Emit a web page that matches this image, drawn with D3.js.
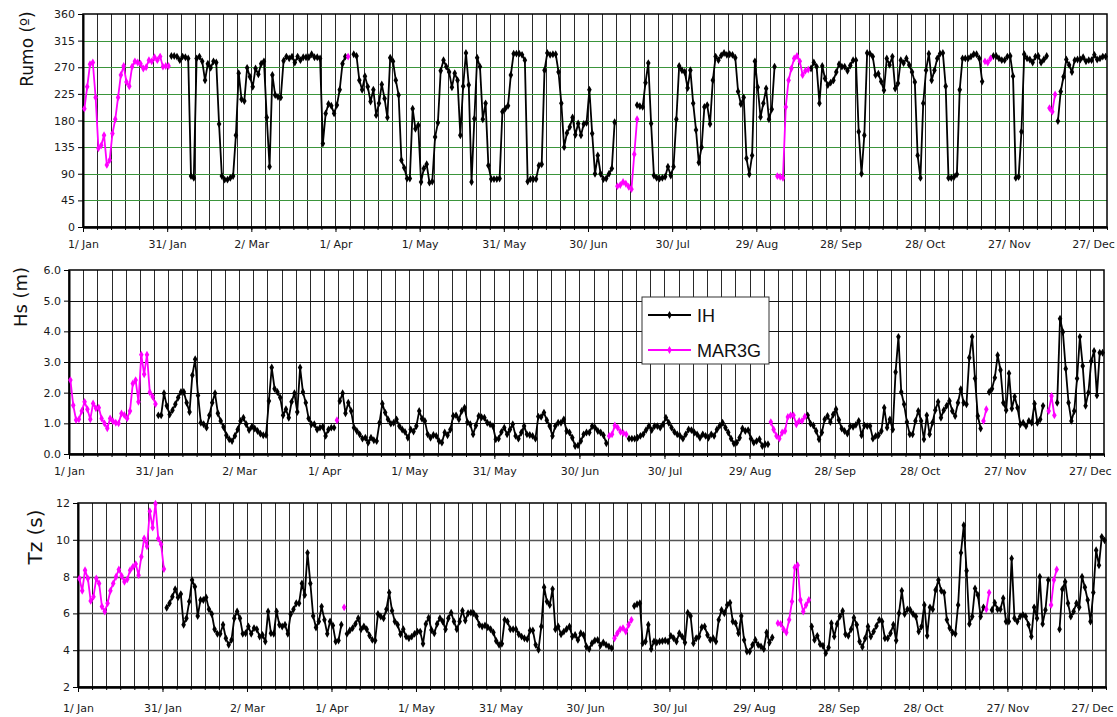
<!DOCTYPE html>
<html>
<head>
<meta charset="utf-8">
<title>Rumo, Hs, Tz</title>
<script src="https://cdn.jsdelivr.net/npm/d3@7/dist/d3.min.js"></script>
<style>
  body { margin: 0; background: #fff; }
  text { font-family: "DejaVu Sans", sans-serif; fill: #222; }
</style>
</head>
<body>
<script>
// x axis: day of year, a label every 30 days
var tickDays = [0, 30, 60, 90, 120, 150, 180, 210, 240, 270, 300, 330, 360];
var tickLabels = ["1/ Jan", "31/ Jan", "2/ Mar", "1/ Apr", "1/ May", "31/ May", "30/ Jun",
                  "30/ Jul", "29/ Aug", "28/ Sep", "28/ Oct", "27/ Nov", "27/ Dec"];

var rumoTicks = [0, 45, 90, 135, 180, 225, 270, 315, 360];
var hsTicks = [0, 1, 2, 3, 4, 5, 6];
var tzTicks = [2, 4, 6, 8, 10, 12];

// each series = list of [first day, daily values]; gaps between pieces
var rumoMAR = [
  [0, [200,237,275,278,219,133,138,155,105,113,158,182,219,257,272,245,238,271,280,278,276,268,270,282,280,287,282,288,271,272,272]],
  [94, [288]],
  [190, [69,71,76,73,68,64,123,182]],
  [247, [86,85,83,203,248,268,285,289,280,257,264,266]],
  [321, [280,278,285]],
  [344, [201,195,224]]
];
var rumoIH = [
  [31, [289,289,288,282,288,287,285,86,83,285, 288,280,248,276,269,280,278,174,86,80, 80,83,86,155,260,216,213,269,254,237,
        268,258,276,280,185,102,257,223,220,219, 281,288,285,288,278,288,282,287,287,287, 292,287,287,285,141,192,208,205,192,206,
        232,276,288]],
  [96, [292,289,248,232,255,237,212,232,189,209, 241,217,185,286,280,248,223,113,100,82, 82,200,166,172,76,99,106,75,77,152,
        176,264,282,271,262,236,260,248,155,238, 294,240,76,183,286,271,182,209,104,81, 81,81,82,195,200,205,257,293,293,293,
        291,282,77,81,81,81,104,106,265,294, 291,292,292,262,209,135,159,169,185,156, 175,155,174,176,232,158,90,121,90,81,
        82,90,99,177]],
  [197, [206,204,203,244,277,175,87,83,82,83, 85,102,87,102,182,272,265,262,235,265, 209,164,109,135,203,206,174,248,288,282,
         290,294,291,292,291,286,229,208,219,116, 89,121,280,236,186,209,234,182,199,271]],
  [259, [268,278,271,209,272,251,240,244,248,262, 275,271,271,264,273,282,282,161,90,155, 294,293,288,257,259,246,231,285,274,288,
         234,243,282,277,285,274,262,245,121,83, 209,265,293,248,265,285,293,294,238,83, 83,85,89,232,285,285,285,288,292,292,
         285,246]],
  [324, [289,289,285,282,282,288,289,255,83,85, 161,292,285,283,278,288,289,278,283,289]],
  [347, [179,229,254,283,274,262,282,283,283,287, 280,282,282,291,283,285,288,288]]
];

var hsMAR = [
  [0, [2.41,1.59,1.11,1.13,1.40,1.70,1.46,1.13,1.65,1.49, 1.51,1.16,1.00,0.84,1.16,1.07,1.02,1.00,1.32,1.27,
       1.16,1.40,2.30,2.41,1.70,3.24,2.60,3.24,2.01,1.87, 1.63]],
  [94, [1.10]],
  [190, [0.59,0.64,0.93,0.86,0.72,0.68,0.64]],
  [247, [1.04,0.80,0.59,0.50,0.70,0.75,1.21,1.26,1.26,0.97, 1.08,1.08,1.22]],
  [322, [1.08,1.46]],
  [345, [1.40,1.89,1.26]]
];
var hsIH = [
  [31, [1.26,1.26,1.98,1.57,1.29,1.43,1.62,1.84,2.02,2.02, 1.67,1.37,2.57,3.09,1.91,1.02,0.97,0.86,1.26,1.67,
        1.98,1.33,1.08,0.88,0.61,0.48,0.42,0.59,0.80,1.08, 1.18,0.97,0.78,0.89,0.83,0.75,0.66,0.61,0.62,1.73,
        2.82,2.13,2.02,1.84,1.26,1.46,1.18,1.70,1.98,1.37, 2.82,2.02,1.67,1.16,0.97,0.97,0.80,0.86,0.89,0.59,
        0.80,0.86,0.86]],
  [95, [1.73,1.98,1.33,1.67,1.40,0.86,0.75,0.64,0.50,0.53, 0.37,0.53,0.45,0.42,1.02,1.64,1.35,1.13,0.99,1.02,
        1.13,0.91,0.80,0.72,0.53,0.80,0.73,0.91,1.40,1.15, 1.08,0.64,0.53,0.62,0.59,0.42,0.37,0.70,0.61,0.80,
        1.24,1.26,1.13,1.40,1.51,1.04,0.97,0.64,0.93,1.24, 1.20,1.18,1.02,0.97,0.91,0.48,0.50,0.72,0.86,0.64,
        0.80,0.97,0.59,0.50,0.70,0.91,0.64,0.62,0.59,0.50, 1.22,1.21,1.35,1.10,0.91,0.59,0.91,1.02,1.02,1.13,
        0.75,0.70,0.53,0.26,0.28,0.42,0.64,0.70,0.70,0.91, 0.86,0.75,0.70,0.61,0.35]],
  [197, [0.50,0.50,0.50,0.53,0.59,0.64,0.78,0.91,0.78,0.91, 0.91,0.86,0.97,1.18,1.02,0.86,0.72,0.64,0.59,0.50,
         0.64,0.80,0.78,0.70,0.64,0.53,0.64,0.59,0.53,0.64, 0.59,0.80,0.92,1.02,0.86,0.70,0.50,0.34,0.37,0.53,
         0.83,0.75,0.78,0.50,0.37,0.42,0.48,0.26,0.32,0.32]],
  [260, [1.26,0.99,0.93,0.75,0.48,0.70,1.13,1.24,1.04,1.29, 1.46,1.11,0.83,0.75,0.67,0.91,0.89,0.95,1.08,0.61,
         0.93,0.91,0.91,0.50,0.59,0.61,0.75,1.51,0.86,1.13, 0.80,2.67,3.82,2.02,1.62,1.04,0.64,0.64,1.08,1.40,
         1.08,0.48,1.26,0.64,1.02,1.43,1.70,1.18,1.43,1.57, 1.73,1.40,1.24,1.67,2.11,1.67,1.62,3.14,3.82,2.46,
         1.24,0.83]],
  [324, [2.02,2.13,2.49,3.22,2.74,1.67,1.43,2.63,1.48,1.87, 1.51,0.97,1.02,0.91,1.08,1.02,1.64,1.02,1.13,1.57]],
  [348, [1.67,4.41,3.98,2.78,1.67,1.08,1.40,2.46,3.82,2.87, 1.57,2.00,3.03,3.36,1.91,3.30,3.30]]
];

var tzMAR = [
  [0, [7.90,7.23,8.35,7.90,6.68,6.91,7.90,7.63,6.37,6.10, 6.55,7.23,7.63,7.99,8.39,8.03,7.72,7.85,8.35,8.53,
       8.68,8.08,9.08,10.07,9.65,11.55,10.66,11.96,10.07,9.76, 8.41]],
  [94, [6.33]],
  [190, [4.65,4.92,5.14,5.20,5.01,5.38,5.65]],
  [248, [5.47,5.43,5.14,4.96,5.65,6.64,8.50,8.62,6.73,6.10, 6.46,6.73]],
  [322, [6.22,7.13]],
  [345, [6.46,7.81,8.39]]
];
var tzIH = [
  [31, [6.31,6.55,6.91,7.31,6.87,7.05,5.38,5.74,6.64,7.81, 7.45,5.86,6.73,6.73,6.87,6.22,5.97,5.14,4.89,4.89,
        5.38,4.65,4.29,4.56,5.74,6.10,5.74,4.89,4.92,5.29, 4.89,5.20,5.14,4.74,4.83,4.47,6.10,4.92,4.89,6.10,
        5.38,5.29,5.38,4.89,5.95,6.22,6.55,6.55,7.63,7.00, 9.29,7.63,5.86,5.23,5.56,6.37,5.65,4.89,5.56,5.34,
        4.47,4.53,5.38]],
  [95, [4.89,5.07,5.20,5.43,5.74,5.14,5.29,5.14,4.80,4.56, 4.53,5.97,5.83,5.74,6.22,7.13,6.15,5.56,5.38,4.87,
        5.14,4.74,4.65,4.74,4.89,5.01,5.01,4.35,5.43,5.77, 5.10,4.92,5.43,5.74,5.56,5.14,5.74,6.04,5.56,5.14,
        5.56,6.15,5.61,6.01,6.04,6.01,5.83,5.38,5.29,5.34, 5.25,5.14,4.96,4.50,4.29,4.35,5.65,5.56,5.14,5.14,
        5.14,4.87,4.74,4.65,4.60,5.07,5.07,4.29,4.02,5.29, 7.42,6.64,6.46,7.32,5.14,5.29,4.87,5.01,5.15,5.29,
        4.74,4.83,4.56,4.92,4.83,4.20,4.06,4.38,4.53,4.56, 4.26,4.42,4.29,4.20,4.11]],
  [197, [6.40,6.50,6.55,4.38,4.47,5.38,4.06,4.47,4.42,4.47, 4.50,4.53,4.47,4.78,4.65,4.47,4.92,4.74,4.42,6.04,
         5.86,4.38,4.65,4.74,5.25,5.29,4.83,4.56,4.65,4.47, 5.65,6.19,6.01,6.46,6.58,5.56,5.47,4.92,5.86,4.56,
         3.93,3.93,4.29,4.56,4.29,4.20,4.06,4.96,4.42,4.69]],
  [260, [5.29,4.56,4.78,4.33,4.24,3.84,4.15,5.47,4.74,5.43, 5.83,6.13,4.87,4.78,5.14,5.77,5.38,4.47,4.17,4.65,
         5.29,4.74,5.01,5.32,5.65,5.56,4.65,4.65,4.92,5.38, 4.53,6.01,7.23,5.97,6.22,6.19,5.97,5.83,5.01,5.29,
         6.46,4.78,6.33,6.22,7.27,7.81,7.23,7.13,5.65,5.20, 4.96,4.89,6.46,9.29,10.79,8.32,5.43,5.83,7.36,7.00,
         5.83,6.33]],
  [324, [6.19,6.58,6.22,6.22,6.82,5.56,5.56,8.99,5.74,5.56, 5.83,5.92,5.83,5.38,4.74,6.33,5.74,7.99,5.43,6.19,
         7.81]],
  [348, [5.14,7.31,7.72,6.55,5.83,6.10,6.55,6.33,7.99,7.42, 6.73,5.56,7.13,9.43,8.62,10.16,9.97]]
];

var IH_COLOR = "#000000";
var MAR_COLOR = "#ff00ff";

var svg = d3.select("body")
  .append("svg")
  .attr("width", 1117)
  .attr("height", 717);

var panels = [
  { left: 83, right: 1107, top: 14, bottom: 227, domain: [0, 360], ticks: rumoTicks,
    fmt: d3.format("d"), grid: "#3b953b", gridWidth: 1, labelPad: 8,
    title: "Rumo (º)", titleX: 27, titleY: 49, titleSize: 17,
    ih: rumoIH, mar: rumoMAR },
  { left: 69, right: 1104, top: 270, bottom: 454, domain: [0, 6], ticks: hsTicks,
    fmt: d3.format(".1f"), grid: "#111", gridWidth: 1, labelPad: 8,
    title: "Hs (m)", titleX: 20, titleY: 297, titleSize: 18,
    ih: hsIH, mar: hsMAR },
  { left: 78, right: 1106, top: 503, bottom: 687, domain: [2, 12], ticks: tzTicks,
    fmt: d3.format("d"), grid: "#555", gridWidth: 1.5, labelPad: 12,
    title: "Tz (s)", titleX: 35, titleY: 537, titleSize: 20,
    ih: tzIH, mar: tzMAR }
];

panels.forEach(drawPanel);
drawLegend(642, 297);

function toPoints(segment) {
  return segment[1].map(function(v, i) { return [segment[0] + i, v]; });
}

function drawPanel(p) {
  var x = d3.scaleLinear().domain([0, 365]).range([p.left, p.right]);
  var y = d3.scaleLinear().domain(p.domain).range([p.bottom, p.top]);
  var g = svg.append("g");

  // vertical grid, every 5 days
  g.selectAll(".vgrid")
    .data(d3.range(5, 365, 5))
    .enter()
    .append("line")
    .attr("x1", function(d) { return Math.round(x(d)) + 0.5; })
    .attr("x2", function(d) { return Math.round(x(d)) + 0.5; })
    .attr("y1", p.top)
    .attr("y2", p.bottom)
    .attr("stroke", "#2a2a2a")
    .attr("stroke-width", 1);

  g.selectAll(".hgrid")
    .data(p.ticks.slice(1, -1))
    .enter()
    .append("line")
    .attr("x1", p.left)
    .attr("x2", p.right)
    .attr("y1", function(d) { return Math.round(y(d)) + 0.5; })
    .attr("y2", function(d) { return Math.round(y(d)) + 0.5; })
    .attr("stroke", p.grid)
    .attr("stroke-width", p.gridWidth);

  // frame
  g.append("rect")
    .attr("x", p.left)
    .attr("y", p.top)
    .attr("width", p.right - p.left)
    .attr("height", p.bottom - p.top)
    .attr("fill", "none")
    .attr("stroke", "#000")
    .attr("stroke-width", 1.5);

  var yAxis = d3.axisLeft(y).tickValues(p.ticks).tickFormat(p.fmt).tickSize(5).tickPadding(3).tickSizeOuter(0);
  var ya = g.append("g").attr("transform", "translate(" + p.left + ",0)").call(yAxis);

  var minor = d3.axisBottom(x).tickValues(d3.range(0, 366, 5)).tickFormat("").tickSize(3).tickSizeOuter(0);
  g.append("g").attr("transform", "translate(0," + p.bottom + ")").call(minor);

  var xAxis = d3.axisBottom(x).tickValues(tickDays)
    .tickFormat(function(d, i) { return tickLabels[i]; })
    .tickSize(5).tickPadding(p.labelPad).tickSizeOuter(0);
  var xa = g.append("g").attr("transform", "translate(0," + p.bottom + ")").call(xAxis);

  g.selectAll(".domain").attr("stroke", "#000").attr("stroke-width", 2);
  g.selectAll(".tick line").attr("stroke", "#000");
  ya.selectAll("text").style("font-size", "11px").style("fill", "#1a1a1a");
  xa.selectAll("text").style("font-size", "11px").style("fill", "#1a1a1a");

  g.append("text")
    .attr("transform", "translate(" + p.titleX + "," + p.titleY + ") rotate(-90)")
    .attr("text-anchor", "middle")
    .attr("dominant-baseline", "central")
    .style("font-size", p.titleSize + "px")
    .style("fill", "#111")
    .text(p.title);

  drawSeries(g, p.ih, x, y, IH_COLOR);
  drawSeries(g, p.mar, x, y, MAR_COLOR);
}

function drawSeries(g, segments, x, y, color) {
  var line = d3.line()
    .x(function(d) { return x(d[0] + 0.5); })
    .y(function(d) { return y(d[1]); });
  var marker = d3.symbol().type(d3.symbolDiamond).size(18);

  segments.forEach(function(seg) {
    var pts = toPoints(seg);
    g.append("path")
      .datum(pts)
      .attr("d", line)
      .attr("fill", "none")
      .attr("stroke", color)
      .attr("stroke-width", 1.8)
      .attr("stroke-linejoin", "round");
    g.selectAll(null)
      .data(pts)
      .enter()
      .append("path")
      .attr("d", marker)
      .attr("transform", function(d) { return "translate(" + x(d[0] + 0.5) + "," + y(d[1]) + ")"; })
      .attr("fill", color);
  });
}

function drawLegend(lx, ly) {
  var g = svg.append("g").attr("transform", "translate(" + lx + "," + ly + ")");
  g.append("rect")
    .attr("width", 127)
    .attr("height", 67)
    .attr("fill", "#fff")
    .attr("stroke", "#333")
    .attr("stroke-width", 1);
  var items = [["IH", IH_COLOR], ["MAR3G", MAR_COLOR]];
  var marker = d3.symbol().type(d3.symbolDiamond).size(18);
  items.forEach(function(it, i) {
    var cy = 18 + i * 35;
    g.append("line").attr("x1", 6).attr("x2", 49).attr("y1", cy).attr("y2", cy)
      .attr("stroke", it[1]).attr("stroke-width", 1.8);
    g.append("path").attr("d", marker).attr("transform", "translate(27.5," + cy + ")").attr("fill", it[1]);
    g.append("text").attr("x", 55).attr("y", cy + 6.5)
      .style("font-family", "'Liberation Sans', Arial, sans-serif")
      .style("font-size", "18px")
      .style("fill", "#111")
      .text(it[0]);
  });
}
</script>
</body>
</html>
